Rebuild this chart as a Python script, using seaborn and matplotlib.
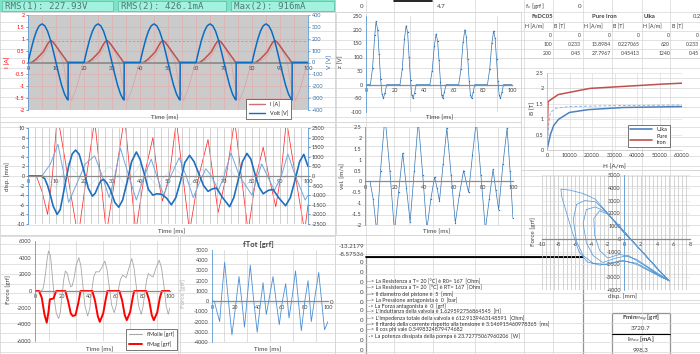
import numpy as np
import matplotlib
matplotlib.use("Agg")
import matplotlib.pyplot as plt
import seaborn as sns
from matplotlib.patches import Rectangle
from matplotlib.lines import Line2D

# ---------------- data ----------------
# chart 1: one 20 ms period of the supply (repeats 5 times)
volt_period = [(0, 0), (1, 100), (2, 191), (3, 263), (4, 309), (5, 325), (6, 309), (7, 263),
               (8, 191), (9, 100), (10, 0), (11, -100), (12, -191), (13, -263), (14, -309),
               (14.3, -315), (14.35, 0), (20, 0)]
curr_period = [(0, 0), (1.3, 0), (3, 0.15), (4.5, 0.33), (5.5, 0.46), (7, 0.78), (7.6, 0.88),
               (8.2, 0.92), (8.8, 0.88), (9.5, 0.78), (11.4, 0.46), (13, 0.2), (14.2, 0), (20, 0)]
curr_ref_period = [(0, 0), (2, 0.02), (4, 0.12), (5.5, 0.3), (7, 0.6), (8.5, 0.9), (10.5, 0.6),
                   (12.6, 0), (14, -1.0), (15.6, -1.6), (17.5, -1.0), (19.8, 0), (20, 0)]
i_max = 0.916

# chart 2: displacement [mm] and other traces
disp_mm = [(0, 0), (4.8, 0), (6, -0.6), (7, -2), (8, -4), (9, -6.3), (10.4, -8), (11.5, -7), (12.5, -4),
           (13.5, -1), (14.5, 2), (15.8, 4.6), (17, 5.4), (18.3, 4.5), (20, 1), (21.5, -2.5), (23, -4.2),
           (24, -3.6), (25, -2.2), (26, -1), (27, -0.7), (28.2, -1.5), (29.5, -3), (31, -5.5),
           (32.4, -6.5), (33.8, -5), (35.5, -1), (37, 3), (38.7, 5), (40, 3.5), (41.5, 0.5), (43, -2.8),
           (44.6, -4), (46, -3.7), (47.6, -3.8), (49.5, -4.6), (51.2, -6), (52.8, -4.5), (54.5, -1),
           (56, 2.8), (57.7, 4.3), (59.3, 3), (61, 0.5), (62.7, -2), (64.3, -3.2), (65.8, -2.7),
           (67.3, -2.5), (69.5, -4.5), (72, -6.4), (73.5, -4.5), (75, -1), (76.6, 3), (78.2, 4.7),
           (79.6, 3.5), (81, 0.5), (82.5, -2.3), (84, -3.7), (85.8, -3), (87.5, -2.8), (89.5, -4.5),
           (92, -6.2), (93.7, -4.5), (95.3, -1), (97, 3), (98.5, 4.5), (100, 2)]
disp_b = [(0, 0), (5, 0), (8, 2.5), (10.7, 6.6), (12.6, 1), (14.5, -5.5), (17.5, -1.5), (20.5, 2.5),
          (23.8, 4.2), (26.5, 0), (29, -4.5), (31, 0), (33, 5.8), (36, 0), (38.7, -5), (41.5, 0),
          (44, 3.5), (46, 0), (48.5, -4), (51, 0), (54, 3.8), (56.5, 0), (59, -4.5), (61.5, -1),
          (63.5, 1.5), (65.5, 0), (68, -3), (70, 0), (72.5, 4.8), (75.5, 0), (80, -4), (82, 0),
          (83.5, 2.5), (85.5, 0), (88, -3), (90.5, 0), (92.8, 4.6), (95.5, 0), (99, -5), (100, -4)]
disp_c = [(0, 0), (6, 0), (10, -2.5), (14.3, 2.8), (18, 0), (22, -2), (25.5, 0), (29, 2), (32.5, 0),
          (35, -2.3), (37.5, 0), (40, 2.5), (43, 0), (46, -2), (49, 0), (52, 2), (55, 0), (58, -2),
          (60, 0), (62, 1.5), (64.5, 0), (67, -2), (69, 0), (71, 2), (74, 0), (77.5, -2.3),
          (80.5, 0), (83, 2.5), (86, 0), (89, -2), (92, 0), (94.6, 2.3), (97, 0), (100, -2)]
vel_mms = [(0, 0), (3, 0), (5, -800), (7, -2000), (8.7, 0), (10.5, 3200), (14.2, 0), (17.9, -3200),
           (20.9, 0), (23.8, 2900), (25.9, 0), (28, -3000), (31.2, 0), (34.5, 3100), (36.5, 0),
           (38.5, -2900), (41.5, 0), (44.6, 2000), (46.3, 0), (48, -1300), (50.5, 0), (53, 2900),
           (55.3, 0), (57.7, -2900), (61, 0), (64.3, 1900), (66.1, 0), (67.9, -1900), (70.8, 0),
           (73.8, 2900), (76.2, 0), (78.6, -2900), (81.5, 0), (84, 1500), (86, 0), (88.5, -1600),
           (90.3, 0), (92.3, 2900), (95.5, 0), (98.8, -2900), (100, -1500)]

# chart 3: spring and magnetic force [grf]
f_molle = [(0, 0), (4.8, 0), (6, 300), (7, 1200), (8, 2400), (9, 3800), (10, 4800), (11.5, 4200),
           (12.5, 2400), (13.5, 600), (14.5, -1200), (15.8, -2700), (17.5, -3300), (18.7, -2600),
           (20, -600), (21.3, 1400), (22.5, 2400), (24, 2100), (25, 1300), (26.5, 500), (27.5, 600),
           (29, 1600), (30.5, 3100), (32.5, 4000), (34, 3000), (35.5, 600), (37, -1800), (39, -3000),
           (40.5, -2200), (42, 0), (43.5, 1700), (45, 2300), (47.5, 2300), (49.5, 2800), (51.7, 3600),
           (53.3, 2600), (55, 500), (56.8, -1700), (58.7, -2600), (60.2, -1700), (61.5, 0), (63.3, 1400),
           (65, 1900), (67.5, 1600), (69.5, 2700), (71.7, 3900), (73.3, 2800), (75, 600), (76.8, -1800),
           (78.7, -2800), (80, -1900), (81.5, 0), (82.8, 1400), (84, 2100), (86, 1800), (87.5, 1700),
           (89.5, 2700), (92, 3700), (93.8, 2700), (95.5, 600), (97.2, -1800), (98.7, -2800), (100, -2000)]
f_mag = [(0, 0), (3, 0), (5, -800), (7, -2800), (8.7, -3800), (10, -2500), (11, -1000), (13.7, -900),
         (15.7, 0), (22.5, 0), (24.5, -1200), (26.5, -2700), (28, -3000), (30, -2900), (32, -1500),
         (33.7, 0), (42.5, 0), (44.5, -1200), (46.5, -3000), (48, -3700), (50.5, -2700), (52.5, -900),
         (53.7, 0), (62.5, 0), (64.5, -1100), (66.5, -2900), (68, -3500), (70.5, -2500), (72.5, -700),
         (73.5, 0), (82.5, 0), (84.5, -1100), (86.5, -2900), (88, -3500), (90.5, -2600), (92.5, -800),
         (94, 0), (100, 0)]

# chart 4: total force [grf]
f_tot = [(0, 0), (2, 0), (4.2, -1000), (6.6, -2000), (8.7, 1000), (10.9, 3800), (14, 200), (17.2, -3300),
         (20.3, -500), (23.3, 2400), (25.7, 0), (28, -2550), (30.5, 500), (33, 3500), (36, 0), (39, -3050),
         (41.5, -500), (44, 1800), (45.4, 200), (46.8, -1300), (49.7, 500), (52.6, 2400), (55.3, 0),
         (58, -2300), (60.7, 0), (63.5, 1700), (65, 0), (66.4, -1650), (69.2, 500), (72, 2950),
         (74.5, 0), (77, -2900), (80, 0), (82.8, 2000), (84.2, 0), (85.6, -2000), (88.8, 500),
         (92, 2800), (94.5, 0), (97, -2800), (100, -2000)]

# chart 5: coil voltage z [V]
z_volt = [(0, 0), (3, 0), (4.5, 60), (6, 180), (6.9, 230), (8, 200), (9, 110), (10, 20), (11, -35),
          (11.9, -50), (13, -30), (14.2, 0), (23.3, 0), (24.8, 55), (26.3, 165), (27.5, 215),
          (28.5, 190), (29.5, 100), (30.5, 15), (31.3, -38), (32.2, -50), (33.3, -30), (34.4, 0),
          (43.8, 0), (45.3, 50), (46.8, 140), (48, 185), (49, 160), (50, 90), (51, 10), (51.8, -38),
          (52.6, -50), (53.7, -28), (54.8, 0), (63.5, 0), (65, 55), (66.5, 155), (67.7, 200),
          (68.7, 175), (69.7, 95), (70.7, 12), (71.5, -38), (72.4, -50), (73.4, -28), (74.5, 0),
          (83.2, 0), (84.7, 55), (86.2, 150), (87.4, 195), (88.4, 170), (89.4, 92), (90.4, 12),
          (91.2, -38), (92.1, -50), (93.1, -28), (94.2, 0), (100, 0)]

# chart 6: velocity [m/s]
vel_ms = [(0, 0), (3.4, 0), (5.5, -0.8), (7.9, -2.3), (10.5, 0.5), (13.5, 3.0), (16.8, 0.5),
          (19.9, -2.3), (22.7, -0.5), (25.5, 1.3), (28, -0.3), (30.5, -1.85), (33.3, 0.5), (36, 2.8),
          (39, 0.3), (41.8, -2.2), (44.5, -0.8), (47, 0.2), (48.7, -0.3), (50.3, -0.9), (52.8, 0.8),
          (55.3, 2.45), (58.2, 0.3), (61, -1.9), (63.8, -0.6), (66.6, 0.5), (68.3, 0), (70, -0.5),
          (72.6, 1.2), (75.2, 2.8), (78.3, 0.3), (81.3, -2.2), (84, -0.8), (86.5, 0.55), (88.4, -0.4),
          (90.3, -1.3), (93.2, 0.8), (96, 2.45), (98, 0.5), (100, -1.7)]

# chart 7: B-H curves
bh_ulka = [(0, 0), (1500, 0.5), (3000, 0.8), (5200, 1.0), (10000, 1.22), (18200, 1.31),
           (33800, 1.38), (60000, 1.41)]
bh_iron = [(0, 0), (450, 1.56), (1000, 1.6), (5000, 1.8), (19000, 2.0), (51500, 2.14), (60000, 2.17)]
bh_fedc = [(0, 0), (700, 0.8), (1500, 1.22), (4100, 1.36), (10000, 1.41), (30000, 1.44), (60000, 1.46)]

# chart 8: force vs displacement loops (disp [mm], force [grf])
loop_pts = [(5.5, -3300), (4, -2300), (2, -900), (0, 600), (-2.3, 2200), (-3.5, 3100), (-5, 3550),
            (-6.5, 3800), (-7.7, 3900), (-7.6, 3300), (-7, 2000), (-6.3, 500), (-5.5, -1000), (-4.5, -1800),
            (-3, -2050), (-1.5, -1900), (0, -1700), (1.5, -2000), (3, -2500), (4.5, -3000), (5.4, -3250),
            (4.1, -2350), (2.1, -950), (0, 550), (-2.4, 2250), (-3.5, 2900), (-4.8, 3000), (-5.8, 2700),
            (-6.2, 1500), (-5.8, -200), (-5, -1300), (-3.8, -1900), (-2.2, -2000), (-0.5, -1700),
            (1.5, -1900), (3.5, -2600), (5, -3100), (5.3, -3200), (4.2, -2450), (2, -850), (0, 500),
            (-2.2, 2100), (-3.5, 2500), (-4.6, 2300), (-5, 1200), (-4.6, -300), (-3.8, -1300),
            (-2.6, -1850), (-1, -1500), (0.5, -1300), (2.5, -2100), (4.5, -2950), (5.5, -3300),
            (4.3, -2550), (2.2, -1000), (0, 450), (-2, 1950), (-3, 2200), (-3.7, 1600), (-3.6, 300),
            (-3, -900), (-2, -1500), (-0.5, -1200), (1.5, -1600), (3.5, -2450), (5.2, -3150)]

rms_texts = ["RMS(1): 227.93V", "RMS(2): 426.1mA", "Max(2): 916mA"]
info_lines = [
    "--> La Resistenza a T= 20 [°C] è R0= 167  [Ohm]",
    "--> La Resistenza a T= 20  [°C] è RT= 167  [Ohm]",
    "--> Il diametro del pistone è  5  [mm]",
    "--> La Pressione antagonista è  0  [bar]",
    " -> La Forza antagonista è  0  [grf]",
    "--> L'induttanza della valvola è 1.629592756864545  [H]",
    "--> L'impedenza totale della valvola è 612.9139463148591  [Ohm]",
    "--> Il ritardo della corrente rispetto alla tensione è 3.146915460978365  [ms]",
    "--> Il cos phi vale 0.5498324879474682",
    " -> La potenza dissipata della pompa è 23.72775067960206  [W]",
]
table_head = ["FeDC05", "Pure Iron", "Ulka"]
table_rows = [["0", "0", "0", "0", "0", "0"],
              ["100", "0.233", "13.8984", "0.227065", "620", "0.233"],
              ["200", "0.45", "27.7967", "0.45413", "1240", "0.45"]]
side_values = ["-13.2179", "-8.57536"]
fmin_mag = "3720.7"
i_max_ma = "998.3"

# ---------------- figure ----------------
sns.set_theme(style="white")
plt.rcParams['font.family'] = ['Lato', 'DejaVu Sans']
plt.rcParams['axes.unicode_minus'] = False

W, H = 700, 354
fig = plt.figure(figsize=(7, 3.54), dpi=100)


def add_ax(x0, y0, x1, y1):
    return fig.add_axes([x0 / W, 1 - y1 / H, (x1 - x0) / W, (y1 - y0) / H])


def ftext(x, y, s, **kw):
    kw.setdefault('fontsize', 4.5)
    kw.setdefault('color', '#404040')
    kw.setdefault('va', 'center')
    fig.text(x / W, 1 - y / H, s, **kw)


def xy(pts):
    a = np.array(pts, dtype=float)
    return a[:, 0], a[:, 1]


def tile(pts, n=5, per=20):
    a = np.array(pts, dtype=float)
    return np.concatenate([a + [per * k, 0] for k in range(n)])


def style(ax, xlim, ylim, xt, yt, zero=True):
    ax.set_facecolor('none')
    ax.set_xlim(*xlim)
    ax.set_ylim(*ylim)
    ax.set_xticks(xt)
    ax.set_yticks(yt)
    ax.spines['top'].set_visible(False)
    ax.spines['right'].set_visible(False)
    ax.spines['left'].set_color('#5b9bd5')
    ax.spines['left'].set_linewidth(0.6)
    if zero:
        ax.spines['bottom'].set_position(('data', 0))
    ax.spines['bottom'].set_color('#8c8c8c')
    ax.spines['bottom'].set_linewidth(0.9)
    ax.tick_params(axis='both', labelsize=4, length=1.5, width=0.4, pad=1, colors='#404040')
    ax.set_xlabel('')
    ax.set_ylabel('')


def line(ax, pts, **kw):
    x, y = xy(pts)
    sns.lineplot(x=x, y=y, ax=ax, estimator=None, sort=False, **kw)


# background sheet
bg = fig.add_axes([0, 0, 1, 1])
bg.set_xlim(0, W)
bg.set_ylim(H, 0)
bg.axis('off')
for yy in [12, 22, 31, 40, 49, 58] + list(np.arange(68, 354, 9.8)):
    bg.plot([0, W], [yy, yy], color='#d6d6d6', lw=0.5)
for xx in [335, 366, 394, 433, 475, 524, 553, 583, 612, 642, 670]:
    bg.plot([xx, xx], [0, H], color='#d6d6d6', lw=0.5)

areas = [(0, 12, 335, 122), (0, 122, 335, 235), (0, 236, 178, 354), (180, 236, 335, 354),
         (336, 12, 521, 122), (336, 122, 521, 235), (521, 58, 700, 170), (521, 170, 700, 300)]
for x0, y0, x1, y1 in areas:
    bg.add_patch(Rectangle((x0, y0), x1 - x0, y1 - y0, facecolor='white', edgecolor='#cfcfcf', lw=0.5))

# green status bar
bg.add_patch(Rectangle((0, 0), 336, 12, facecolor='#7de3c5', edgecolor='none'))
for (x0, x1), s in zip([(2, 113), (118, 226), (231, 334)], rms_texts):
    bg.add_patch(Rectangle((x0, 1), x1 - x0, 10, facecolor='#a2f2df', edgecolor='#5fc4a8', lw=0.6))
    ftext(x0 + 3, 6.5, s, family='DejaVu Sans Mono', fontsize=6.6, color='#4d7d73')

# top row cells
bg.plot([394, 432], [0.6, 0.6], color='black', lw=1.2)
ftext(364, 6, "0", ha='right')
ftext(441, 6, "4.7", ha='center')
ftext(525, 6, "f$_c$ [grf]", ha='left')
ftext(581, 6, "0", ha='right')

# B-H table
ftext(542, 17, table_head[0], ha='center', fontweight='bold', fontsize=4.2)
ftext(604, 17, table_head[1], ha='center', fontweight='bold', fontsize=4.2)
ftext(650, 17, table_head[2], ha='center', fontweight='bold', fontsize=4.2)
ftext(697, 17, "0.2", ha='center', fontsize=4.2)
col_l = [524, 553, 583, 612, 642, 671]
for i, c in enumerate(col_l):
    ftext(c + 1, 26.5, "H [A/m]" if i % 2 == 0 else "B [T]", ha='left', fontsize=3.7, color='#303030')
for r, row in enumerate(table_rows):
    for c, val in zip(col_l, row):
        ftext(c + 28, 35.5 + 9 * r, val, ha='right', fontsize=3.7)

# cells left of the info box
ftext(364, 246, side_values[0], ha='right')
ftext(364, 254, side_values[1], ha='right')
for yy in [262, 272, 282, 292, 302, 311, 321, 330, 341, 350]:
    ftext(364, yy, "0", ha='right')
ftext(334, 302, "0", ha='right')

# info box
bg.add_patch(Rectangle((366, 257), 217, 100, facecolor='white', edgecolor='black', lw=0.8))
bg.plot([366, 583], [257, 257], color='black', lw=1.3)
for k, s in enumerate(info_lines):
    ftext(367, 282 + 6 * k, s, ha='left', fontsize=3.9, color='#303030')

# Fmin / Imax box
bg.add_patch(Rectangle((612, 313), 58, 45, facecolor='white', edgecolor='black', lw=0.8))
bg.plot([612, 670], [333.5, 333.5], color='black', lw=0.8)
ftext(641, 318, "Fmin$_{Mag}$ [grf]", ha='center', fontweight='bold', fontsize=4.5)
ftext(641, 328, fmin_mag, ha='center', fontsize=4.5)
ftext(641, 339, "I$_{Max}$ [mA]", ha='center', fontweight='bold', fontsize=4.5)
ftext(641, 351, i_max_ma, ha='center', fontsize=4.5)

# ---- chart 1: current & voltage ----
red_i = '#c0504d'
blue_v = '#0a6cc2'
axA = add_ax(28, 15, 308, 110)
axA.set_facecolor('#cbcbcb')
axA.set_xlim(0, 100)
axA.set_ylim(-2, 2)
axA.set_xticks(np.arange(0, 101, 5), minor=True)
axA.grid(True, which='both', axis='x', color='#e3aeae', lw=0.5)
axA.grid(True, which='major', axis='y', color='#e3aeae', lw=0.5)
axA.set_axisbelow(True)
axA.plot([0, 100], [i_max, i_max], color='#d48c8c', lw=0.6, ls=(0, (3, 2)))
line(axA, tile(curr_ref_period), color='#dba0a0', lw=0.5)
line(axA, tile(curr_period), color=red_i, lw=1.1)
axA.set_xticks(np.arange(0, 101, 10))
axA.set_yticks(np.arange(-2, 2.01, 0.5))
axA.set_yticklabels(['-2', '-1.5', '-1', '-0.5', '0', '0.5', '1', '1.5', '2'])
for s in ['top', 'right']:
    axA.spines[s].set_visible(False)
axA.spines['left'].set_color('#5b9bd5')
axA.spines['left'].set_linewidth(0.6)
axA.spines['bottom'].set_position(('data', 0))
axA.spines['bottom'].set_color('#8c8c8c')
axA.tick_params(axis='both', labelsize=4, length=1.5, width=0.4, pad=1, colors='#404040')
axA.tick_params(axis='y', labelcolor='red')
axA.set_xlabel('')
axA.set_ylabel('')
axA2 = axA.twinx()
line(axA2, tile(volt_period), color=blue_v, lw=1.1)
axA2.set_ylim(-400, 400)
axA2.set_yticks(np.arange(-400, 401, 100))
for s in ['top', 'left', 'bottom']:
    axA2.spines[s].set_visible(False)
axA2.spines['right'].set_color('#5b9bd5')
axA2.spines['right'].set_linewidth(0.6)
axA2.tick_params(axis='y', labelsize=4, length=1.5, width=0.4, pad=1, colors='#3a6ea5')
axA2.set_ylabel('')
ftext(8, 62, "I [A]", rotation=90, ha='center', color='red', fontsize=4.5)
ftext(330, 62, "V [V]", rotation=90, ha='center', color='#2f6db5', fontsize=4.5)
ftext(165, 118, "Time [ms]", ha='center')
legA = fig.legend([Line2D([], [], color='#d07070', lw=1), Line2D([], [], color=blue_v, lw=1)],
                  ['I [A]', 'Volt [V]'], loc='upper left', bbox_to_anchor=(243 / W, 1 - 96 / H),
                  fontsize=4, frameon=True, fancybox=False, edgecolor='#404040', framealpha=1,
                  handlelength=3, borderpad=0.5, labelspacing=0.7)
legA.get_frame().set_linewidth(0.5)

# ---- chart 2: displacement ----
axB = add_ax(28, 128, 308, 224)
style(axB, (0, 100), (-10, 10), np.arange(0, 101, 10), np.arange(-10, 11, 2))
axB.set_xticks(np.arange(0, 101, 2.5), minor=True)
axB.grid(True, which='both', axis='x', color='#bdbdbd', lw=0.5)
axB.set_axisbelow(True)
axB2 = axB.twinx()
line(axB2, vel_mms, color='#ff2a2a', lw=0.55)
axB2.set_ylim(-2500, 2500)
axB2.set_yticks(np.arange(-2500, 2501, 500))
for s in ['top', 'left', 'bottom']:
    axB2.spines[s].set_visible(False)
axB2.spines['right'].set_color('#5b9bd5')
axB2.spines['right'].set_linewidth(0.6)
axB2.tick_params(axis='y', labelsize=4, length=1.5, width=0.4, pad=1, colors='#404040')
axB2.set_ylabel('')
line(axB, disp_c, color='#aecbea', lw=0.6, ls=(0, (1, 1)))
line(axB, disp_b, color='#74a7dc', lw=0.7)
line(axB, disp_mm, color='#1f6fbf', lw=1.2)
axB.set_zorder(axB2.get_zorder() + 1)
ftext(7, 176, "disp. [mm]", rotation=90, ha='center')
ftext(172, 232, "Time [ms]", ha='center')

# ---- chart 3: forces ----
axC = add_ax(35, 241, 170, 341)
style(axC, (0, 100), (-6000, 6000), np.arange(0, 101, 20), np.arange(-6000, 6001, 2000))
axC.set_xticks([10, 30, 50, 70, 90], minor=True)
axC.grid(True, which='minor', axis='x', color='#d0d0d0', lw=0.5)
line(axC, f_molle, color='#a6a6a6', lw=0.6)
line(axC, f_mag, color='#ff0000', lw=1.4)
ftext(8, 290, "Force [grf]", rotation=90, ha='center')
ftext(100, 350, "Time [ms]", ha='center')
legC = fig.legend([Line2D([], [], color='#a6a6a6', lw=0.8), Line2D([], [], color='#ff0000', lw=1.4)],
                  ['fMolle [grf]', 'fMag [grf]'], loc='upper left', bbox_to_anchor=(123 / W, 1 - 326 / H),
                  fontsize=4, frameon=True, fancybox=False, edgecolor='#404040', framealpha=1,
                  handlelength=2.5, borderpad=0.5, labelspacing=0.8)
legC.get_frame().set_linewidth(0.5)

# ---- chart 4: total force ----
axD = add_ax(212, 250, 328, 342)
style(axD, (0, 100), (-4000, 5000), np.arange(0, 101, 20), np.arange(-4000, 5001, 1000))
axD.set_xticks([10, 30, 50, 70, 90], minor=True)
axD.grid(True, which='minor', axis='x', color='#d0d0d0', lw=0.5)
line(axD, f_tot, color='#4a8fd6', lw=0.6)
ftext(258, 244, "fTot [grf]", ha='center', fontweight='bold', fontsize=5.5)
ftext(183, 293, "Force [grf]", rotation=90, ha='center', color='#b0b0b0')
ftext(268, 350, "Time [ms]", ha='center')

# ---- chart 5: z voltage ----
axE = add_ax(366, 16, 512, 112)
style(axE, (0, 100), (-100, 250), np.arange(0, 101, 20), np.arange(-100, 251, 50))
axE.set_xticks([30, 60, 90], minor=True)
axE.grid(True, which='minor', axis='x', color='#d0d0d0', lw=0.5)
line(axE, z_volt, color='#2e75b6', lw=0.5, marker='o', markersize=1.0, markeredgewidth=0)
ftext(341, 62, "z [V]", rotation=90, ha='center')
ftext(440, 118, "Time [ms]", ha='center')

# ---- chart 6: velocity ----
axF = add_ax(365, 127, 513, 225)
style(axF, (0, 100), (-2, 2.5), np.arange(0, 101, 20), np.arange(-2, 2.51, 0.5))
axF.set_yticklabels(['-2', '-1.5', '-1', '-0.5', '0', '0.5', '1', '1.5', '2', '2.5'])
axF.set_xticks([30, 60, 90], minor=True)
axF.grid(True, which='minor', axis='x', color='#d0d0d0', lw=0.5)
line(axF, vel_ms, color='#2e75b6', lw=0.5, marker='o', markersize=1.0, markeredgewidth=0)
ftext(343, 176, "vel. [m/s]", rotation=90, ha='center')
ftext(437, 232, "Time [ms]", ha='center')

# ---- chart 7: B-H ----
axG = add_ax(547, 73, 682, 150)
style(axG, (0, 60000), (0, 2.5), np.arange(0, 60001, 10000), np.arange(0, 2.51, 0.5), zero=False)
axG.set_yticklabels(['0', '0.5', '1', '1.5', '2', '2.5'])
axG.grid(True, color='#dedede', lw=0.5)
axG.spines['left'].set_color('#bfbfbf')
axG.spines['bottom'].set_color('#bfbfbf')
axG.spines['bottom'].set_linewidth(0.5)
line(axG, bh_fedc, color='#8fb4e3', lw=0.7, ls=(0, (3, 2)))
line(axG, bh_ulka, color='#4f81bd', lw=1.1)
line(axG, bh_iron, color='#c0504d', lw=1.1)
ftext(533, 108, "B [T]", rotation=90, ha='center')
ftext(614, 167, "H [A/m]", ha='center')
legG = fig.legend([Line2D([], [], color='#4f81bd', lw=1.2), Line2D([], [], color='#c0504d', lw=1.2)],
                  ['Ulka', 'Pure\nIron'], loc='upper left', bbox_to_anchor=(625 / W, 1 - 122 / H),
                  fontsize=4, frameon=True, fancybox=False, edgecolor='#404040', framealpha=1,
                  handlelength=4, borderpad=0.4, labelspacing=0.4)
legG.get_frame().set_linewidth(0.5)

# ---- chart 8: force vs displacement ----
axH = add_ax(542, 175, 690, 290)
style(axH, (-10, 8), (-4000, 5000), np.arange(-10, 9, 2), np.arange(-4000, 5001, 1000))
axH.spines['left'].set_position(('data', 0))
axH.set_xticks(np.arange(-10, 8.1, 0.5), minor=True)
axH.grid(True, which='both', axis='x', color='#c4c4c4', lw=0.5)
axH.grid(True, which='major', axis='y', color='#e4e4e4', lw=0.5)
axH.set_axisbelow(True)
line(axH, loop_pts, color='#5b9bd5', lw=0.55)
ftext(533, 232, "Force [grf]", rotation=90, ha='center')
ftext(622, 296, "disp. [mm]", ha='center')

fig.savefig("out.png", dpi=100)
